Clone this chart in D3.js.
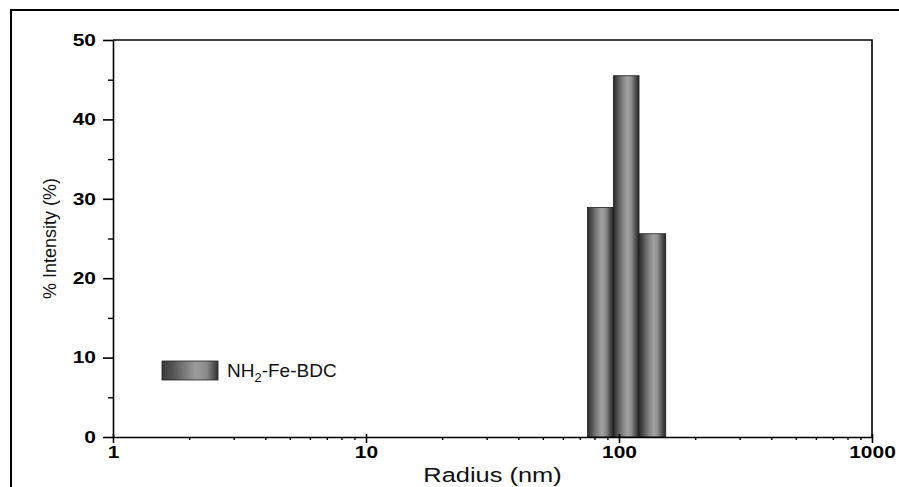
<!DOCTYPE html>
<html>
<head>
<meta charset="utf-8">
<script src="https://cdn.jsdelivr.net/npm/d3@7"></script>
<style>
  body { margin: 0; background: #fff; }
  svg { display: block; font-family: "Liberation Sans", Arial, sans-serif; }
</style>
</head>
<body>
<div id="chart"></div>
<script>
// size distribution bins (radius in nm) and intensity
const binStart = [75, 95, 120];
const binEnd = [95, 120, 153];
const intensity = [28.9, 45.5, 25.6];

const xTicks = [1, 10, 100, 1000];
const yTicks = [0, 10, 20, 30, 40, 50];
const seriesName = "NH2-Fe-BDC";

const width = 899, height = 487;
const margin = { top: 40, right: 27, bottom: 50, left: 113 };
const stretch = 1.27; // figure text looks widened horizontally

const svg = d3.select("#chart").append("svg")
    .attr("width", width)
    .attr("height", height);

// outer frame of the figure
svg.append("path")
    .attr("d", `M11,${height + 2}V10H${width + 2}`)
    .attr("fill", "none")
    .attr("stroke", "#000")
    .attr("stroke-width", 2);

const x = d3.scaleLog()
    .domain([1, 1000])
    .range([margin.left, width - margin.right]);

const y = d3.scaleLinear()
    .domain([0, 50])
    .range([height - margin.bottom, margin.top]);

// cylinder-like shading for bars
const defs = svg.append("defs");
const grad = defs.append("linearGradient")
    .attr("id", "barGrad")
    .attr("x1", "0%").attr("x2", "100%")
    .attr("y1", "0%").attr("y2", "0%");
[
    [0, "#2a2a2a"], [0.12, "#464646"], [0.35, "#7e7e7e"],
    [0.55, "#a2a2a2"], [0.7, "#8e8e8e"], [0.88, "#4a4a4a"], [1, "#262626"]
].forEach(function (s) {
    grad.append("stop").attr("offset", s[0]).attr("stop-color", s[1]);
});

const bars = binStart.map(function (s, i) {
    return { x0: s, x1: binEnd[i], v: intensity[i] };
});

svg.selectAll("rect.bar")
    .data(bars)
    .enter()
    .append("rect")
    .attr("class", "bar")
    .attr("x", d => x(d.x0))
    .attr("width", d => x(d.x1) - x(d.x0))
    .attr("y", d => y(d.v))
    .attr("height", d => y(0) - y(d.v))
    .attr("fill", "url(#barGrad)")
    .attr("stroke", "#1e1e1e")
    .attr("stroke-width", 0.8);

// box: top and right lines
svg.append("path")
    .attr("d", `M${x(1)},${y(50)}H${x(1000)}V${y(0)}`)
    .attr("fill", "none")
    .attr("stroke", "#000")
    .attr("stroke-width", 1.6);

// x axis
const xMinor = [];
for (let p = 1; p < 1000; p *= 10) {
    for (let k = 2; k <= 9; k++) xMinor.push(p * k);
}

const xAxis = svg.append("g")
    .attr("transform", `translate(0,${y(0)})`);

xAxis.append("g")
    .call(d3.axisBottom(x).tickValues(xMinor).tickSize(3).tickFormat(""))
    .call(g => g.select(".domain").remove())
    .selectAll("line").attr("stroke-width", 1.4);

xAxis.append("g")
    .call(d3.axisBottom(x).tickValues(xTicks).tickSize(6).tickSizeOuter(0)
        .tickFormat(d3.format("d")))
    .call(g => g.select(".domain").attr("stroke-width", 1.6))
    .call(g => g.selectAll("line").attr("stroke-width", 1.6)
        .attr("y1", -3))
    .call(g => g.selectAll("text")
        .attr("font-size", 16.5)
        .attr("font-weight", "bold")
        .attr("font-family", "'Liberation Sans', Arial, sans-serif")
        .attr("fill", "#000")
        .attr("dy", "0.71em")
        .attr("y", 9)
        .attr("transform", `scale(${stretch},1)`));

// y axis
const yMinor = d3.range(5, 50, 10);

const yAxis = svg.append("g")
    .attr("transform", `translate(${x(1)},0)`);

yAxis.append("g")
    .call(d3.axisLeft(y).tickValues(yMinor).tickSize(5).tickFormat(""))
    .call(g => g.select(".domain").remove())
    .selectAll("line").attr("stroke-width", 1.4);

yAxis.append("g")
    .call(d3.axisLeft(y).tickValues(yTicks).tickSize(10).tickSizeOuter(0))
    .call(g => g.select(".domain").attr("stroke-width", 1.6))
    .call(g => g.selectAll("line").attr("stroke-width", 1.6))
    .call(g => g.selectAll("text")
        .attr("font-size", 16.5)
        .attr("font-weight", "bold")
        .attr("font-family", "'Liberation Sans', Arial, sans-serif")
        .attr("fill", "#000")
        .attr("x", -17 / stretch)
        .attr("transform", `scale(${stretch},1)`));

// axis titles
const xMid = (x(1) + x(1000)) / 2 - 0;
svg.append("text")
    .attr("transform", `translate(${xMid},482) scale(${stretch},1)`)
    .attr("text-anchor", "middle")
    .attr("font-size", 20)
    .attr("fill", "#111")
    .text("Radius (nm)");

svg.append("text")
    .attr("transform", `translate(56,${(y(0) + y(50)) / 2}) rotate(-90)`)
    .attr("text-anchor", "middle")
    .attr("font-size", 18)
    .attr("fill", "#111")
    .text("% Intensity (%)");

// legend
const legend = svg.append("g").attr("transform", "translate(162,361)");
const lgGrad = defs.append("linearGradient")
    .attr("id", "legGrad")
    .attr("x1", "0%").attr("x2", "100%");
[
    [0, "#3a3a3a"], [0.2, "#555"], [0.6, "#9c9c9c"], [0.8, "#8a8a8a"], [1, "#333"]
].forEach(function (s) {
    lgGrad.append("stop").attr("offset", s[0]).attr("stop-color", s[1]);
});

legend.append("rect")
    .attr("width", 56)
    .attr("height", 19)
    .attr("fill", "url(#legGrad)")
    .attr("stroke", "#222")
    .attr("stroke-width", 0.8);

const parts = seriesName.match(/^(NH)(2)(.*)$/);
const lt = legend.append("text")
    .attr("x", 65)
    .attr("y", 16)
    .attr("font-size", 19)
    .attr("fill", "#111");
lt.append("tspan").text(parts[1]);
lt.append("tspan").attr("font-size", 13).attr("dy", 5).text(parts[2]);
lt.append("tspan").attr("dy", -5).text(parts[3]);
</script>
</body>
</html>
